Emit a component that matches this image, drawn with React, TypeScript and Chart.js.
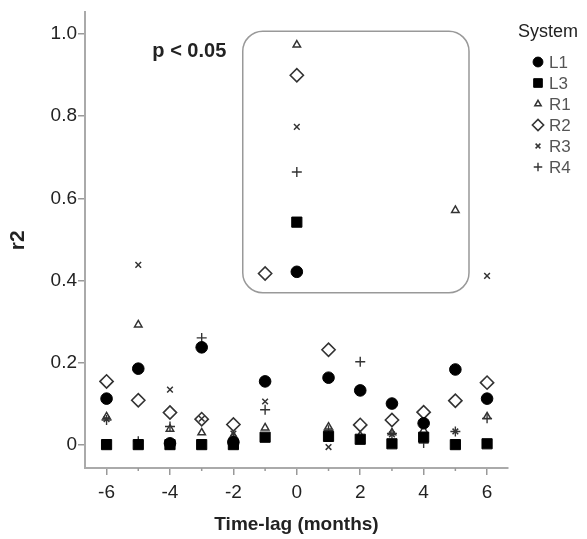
import { useEffect, useRef } from "react";
import { Chart, registerables } from "chart.js";
import { drawPoint } from "chart.js/helpers";

Chart.register(...registerables);

// ---- data ----
const lags = [-6, -5, -4, -3, -2, -1, 0, 1, 2, 3, 4, 5, 6];
const L1 = [0.112, 0.185, 0.003, 0.237, 0.006, 0.154, 0.421, 0.163, 0.132, 0.1, 0.052, 0.183, 0.112];
const L3 = [0, 0, 0, 0, 0, 0.018, 0.542, 0.02, 0.013, 0.002, 0.018, 0, 0.002];
const R1 = [0.068, 0.292, 0.038, 0.029, 0.022, 0.041, 0.974, 0.043, 0.022, 0.029, 0.035, 0.571, 0.068];
const R2 = [0.154, 0.108, 0.078, 0.062, 0.049, 0.417, 0.9, 0.231, 0.048, 0.06, 0.079, 0.107, 0.151];
const R3 = [0.062, 0.438, 0.134, 0.063, 0.027, 0.105, 0.774, -0.006, 0.015, 0.025, 0.02, 0.032, 0.411];
const R4 = [0.06, 0.008, 0.044, 0.26, 0.015, 0.085, 0.664, 0.035, 0.202, 0.027, 0.004, 0.032, 0.064];

const seriesNames = ["L1", "L3", "R1", "R2", "R3", "R4"];
const seriesValues = [L1, L3, R1, R2, R3, R4];

const xTicks = [-6, -4, -2, 0, 2, 4, 6];
const xMinorTicks = [-5, -3, -1, 1, 3, 5];
const yTicks = [0, 0.2, 0.4, 0.6, 0.8, 1.0];

const legendTitle = "System";
const annotationText = "p < 0.05";

// ---- styles ----
const FONT = "'Liberation Sans', Arial, sans-serif";
const styles: Record<string, any> = {
  L1: { pointStyle: "circle", radius: 5.8, bg: "#000", border: "#000", bw: 1 },
  L3: { pointStyle: "rect", radius: 7.2, bg: "#000", border: "#000", bw: 1 },
  R1: { pointStyle: "triangle", radius: 4.3, bg: "rgba(0,0,0,0)", border: "#333", bw: 1.5 },
  R2: { pointStyle: "rectRot", radius: 6.6, bg: "rgba(0,0,0,0)", border: "#333", bw: 1.6 },
  R3: { pointStyle: "crossRot", radius: 4, bg: "rgba(0,0,0,0)", border: "#333", bw: 1.5 },
  R4: { pointStyle: "cross", radius: 5, bg: "rgba(0,0,0,0)", border: "#333", bw: 1.4 },
};

const boxLeft = -1.705;
const boxRight = 5.43;
const boxTop = 1.007;
const boxBottom = 0.37;
const annotX = -3.39;
const annotY = 0.957;

const decorPlugin = {
  id: "decor",
  beforeDatasetsDraw(chart: any) {
    const { ctx, scales } = chart;
    const x = scales.x, y = scales.y;
    const x0 = x.getPixelForValue(boxLeft);
    const x1 = x.getPixelForValue(boxRight);
    const y0 = y.getPixelForValue(boxTop);
    const y1 = y.getPixelForValue(boxBottom);
    ctx.save();
    ctx.strokeStyle = "#999";
    ctx.lineWidth = 1.5;
    ctx.beginPath();
    (ctx as any).roundRect(x0, y0, x1 - x0, y1 - y0, 20);
    ctx.stroke();
    ctx.fillStyle = "#222";
    ctx.font = `bold 20px ${FONT}`;
    ctx.textAlign = "center";
    ctx.textBaseline = "middle";
    ctx.fillText(annotationText, x.getPixelForValue(annotX), y.getPixelForValue(annotY));
    ctx.restore();
  },
  afterDraw(chart: any) {
    const { ctx, scales, chartArea } = chart;
    const x = scales.x;
    ctx.save();
    ctx.strokeStyle = "#999";
    ctx.lineWidth = 1.5;
    for (const v of xMinorTicks) {
      const px = x.getPixelForValue(v);
      ctx.beginPath();
      ctx.moveTo(px, chartArea.bottom);
      ctx.lineTo(px, chartArea.bottom + 3);
      ctx.stroke();
    }
    // legend
    ctx.fillStyle = "#222";
    ctx.font = `18px ${FONT}`;
    ctx.textAlign = "left";
    ctx.textBaseline = "middle";
    ctx.fillText(legendTitle, 518, 32);
    ctx.font = `17px ${FONT}`;
    seriesNames.forEach((name, i) => {
      const st = styles[name];
      const yy = 62 + 21 * i;
      ctx.fillStyle = st.bg;
      ctx.strokeStyle = st.border;
      ctx.lineWidth = st.bw;
      drawPoint(ctx, { pointStyle: st.pointStyle, radius: st.radius * 0.85, rotation: 0, borderWidth: st.bw } as any, 538, yy);
      ctx.fillStyle = "#555";
      ctx.fillText(name, 549, yy + 1);
    });
    ctx.restore();
  },
};

export default function App() {
  const ref = useRef<HTMLCanvasElement>(null);
  useEffect(() => {
    if (!ref.current) return;
    const datasets = seriesNames.map((name, i) => {
      const st = styles[name];
      return {
        label: name,
        data: lags.map((l, j) => ({ x: l, y: seriesValues[i][j] })),
        pointStyle: st.pointStyle,
        pointRadius: st.radius,
        pointHoverRadius: st.radius,
        backgroundColor: st.bg,
        borderColor: st.border,
        pointBorderWidth: st.bw,
        borderWidth: st.bw,
        showLine: false,
        order: name === "L3" ? 0 : name === "L1" ? 1 : 2 + i,
      };
    });
    const chart = new Chart(ref.current, {
      type: "scatter",
      data: { datasets },
      plugins: [decorPlugin],
      options: {
        animation: false,
        responsive: false,
        events: [],
        layout: { padding: { top: 12, right: 79, left: 0, bottom: 0 } },
        plugins: { legend: { display: false }, tooltip: { enabled: false } },
        scales: {
          x: {
            type: "linear",
            min: -6.68,
            max: 6.66,
            afterBuildTicks: (s: any) => {
              s.ticks = xTicks.map((v) => ({ value: v }));
            },
            afterFit: (s: any) => {
              s.height = 71;
            },
            ticks: {
              color: "#222",
              font: { family: FONT, size: 19 },
              padding: 6,
              maxRotation: 0,
              autoSkip: false,
              callback: (v: any) => String(v),
            },
            grid: { drawOnChartArea: false, drawTicks: true, tickLength: 7, color: "#999", lineWidth: 1.5 },
            border: { display: true, color: "#aaa", width: 2 },
            title: {
              display: true,
              text: "Time-lag (months)",
              color: "#222",
              font: { family: FONT, size: 19, weight: "bold" },
              padding: { top: 0, bottom: 3 },
            },
          },
          y: {
            type: "linear",
            min: -0.057,
            max: 1.053,
            afterBuildTicks: (s: any) => {
              s.ticks = yTicks.map((v) => ({ value: v }));
            },
            afterFit: (s: any) => {
              s.width = 85;
            },
            ticks: {
              color: "#222",
              font: { family: FONT, size: 19 },
              padding: 1,
              autoSkip: false,
              callback: (v: any) => (v === 0 ? "0" : Number(v).toFixed(1)),
            },
            grid: { drawOnChartArea: false, drawTicks: true, tickLength: 7, color: "#999", lineWidth: 1.5 },
            border: { display: true, color: "#aaa", width: 2 },
            title: {
              display: true,
              text: "r2",
              color: "#222",
              font: { family: FONT, size: 21, weight: "bold" },
              padding: { top: 6, bottom: 0 },
            },
          },
        },
      } as any,
    });
    return () => chart.destroy();
  }, []);
  return (
    <div style={{ position: "absolute", left: 0, top: 0, width: 587, height: 539, background: "#fff" }}>
      <canvas ref={ref} width={587} height={539} style={{ display: "block" }} />
    </div>
  );
}
